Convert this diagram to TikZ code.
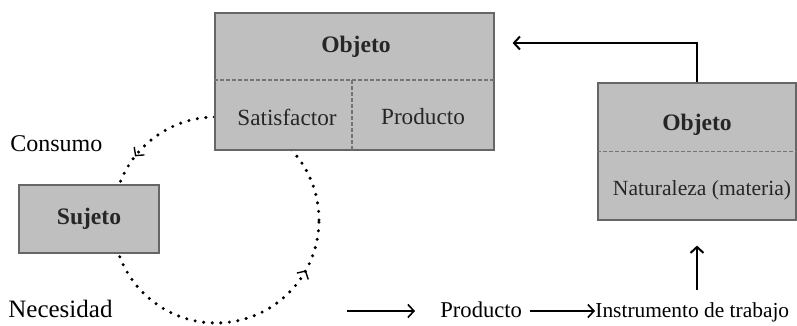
\documentclass[tikz,border=0pt]{standalone}
\usepackage{fontspec}
\setmainfont{Liberation Serif}
\usetikzlibrary{positioning, arrows.meta, decorations.markings}

\begin{document}
\begin{tikzpicture}[x=0.5pt, y=0.5pt,
  caja/.style={draw=black!60, line width=0.6pt, fill=black!25, inner sep=0pt},
  divisor/.style={draw=black!55, line width=0.6pt, dash pattern=on 2pt off 1pt},
  texto/.style={inner sep=0pt, font=\fontsize{11.6}{13}\selectfont, text=black!85},
  titulo/.style={texto, font=\fontsize{11.8}{13}\selectfont\bfseries},
  etiqueta/.style={inner sep=0pt, anchor=base west, font=\fontsize{#1}{14}\selectfont},
  flecha/.style={line width=1pt, -{Straight Barb[length=3pt, width=6.5pt]}},
  puntos/.style={line width=1.7pt, line cap=round, dash pattern=on 0pt off 4.3pt,
    postaction={decorate}, decoration={markings,
      mark=at position 0.394 with {\arrow[line width=0.7pt]{Straight Barb[length=3pt, width=6.5pt]}},
      mark=at position 0.919 with {\arrow[line width=0.7pt]{Straight Barb[length=3pt, width=6.5pt]}}}}]

  \useasboundingbox (0,0) rectangle (797,326);

  \coordinate (ciclo) at (216,106);
  \draw[puntos] (ciclo) circle[radius=103];

  \draw (354.5,244.5) node[caja, minimum width=139.5pt, minimum height=68.5pt] (objA) {};
  \coordinate (divA) at (352,246);
  \draw[divisor] (objA.west |- divA) -- (objA.east |- divA);
  \draw[divisor] (divA) -- (divA |- objA.south);
  \draw (356,279) node[titulo] (objAt) {Objeto};
  \draw (287,209) node[texto] (sat) {Satisfactor};
  \draw (423,209) node[texto] (prodA) {Producto};

  \draw (697,174.5) node[caja, minimum width=99pt, minimum height=68.5pt] (objB) {};
  \draw[divisor] (objB.west) -- (objB.east);
  \draw (697,201) node[titulo] (objBt) {Objeto};
  \draw (702,136) node[texto, font=\fontsize{10.8}{12}\selectfont] (nat) {Naturaleza (materia)};

  \draw (89,107) node[caja, minimum width=70pt, minimum height=34pt] (suj) {};
  \draw (89,107) node[titulo] (sujt) {Sujeto};

  \draw (10,174) node[etiqueta=12] (cons) {Consumo};
  \draw (8,8) node[etiqueta=12.5] (nec) {Necesidad};
  \draw (440,8) node[etiqueta=11.3] (prod) {Producto};
  \draw (595,8) node[etiqueta=10.7] (inst) {Instrumento de trabajo};

  \coordinate (vuelta) at (697,283);
  \draw[flecha] (objB.north) -- (vuelta) -- (objA.east |- vuelta) [shorten >=9pt];
  \coordinate (base) at (697,36);
  \draw[flecha] (base) -- (objB.south) [shorten >=12.5pt];

  \coordinate (ini) at (347,15);
  \draw[flecha, line width=0.8pt] (ini) -- (prod.west |- ini) [shorten >=12.5pt];
  \draw[flecha, line width=0.8pt] ([xshift=4pt]prod.east |- ini) -- (inst.west |- ini);

\end{tikzpicture}
\end{document}
